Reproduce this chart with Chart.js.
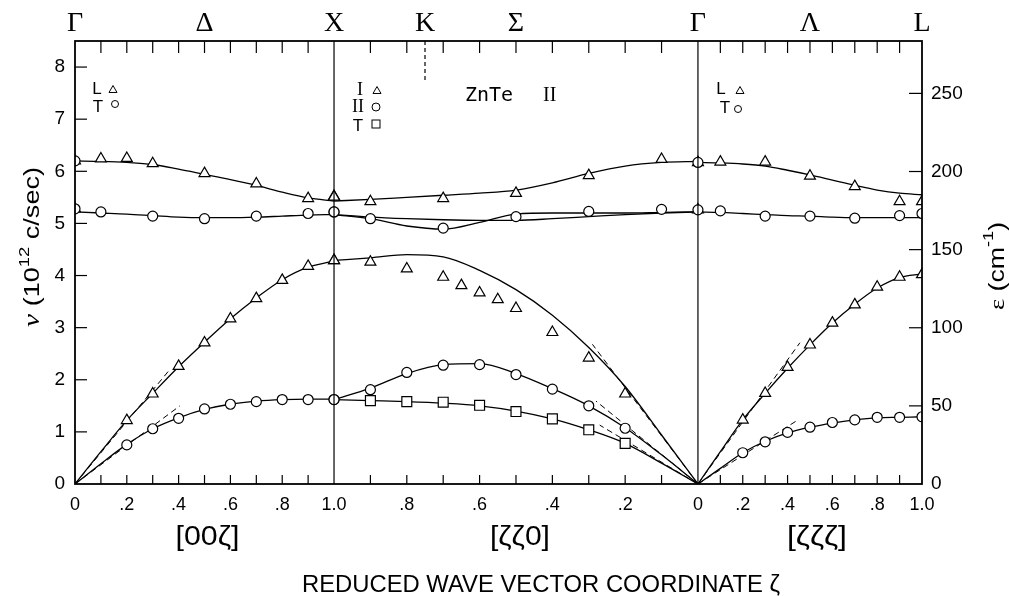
<!DOCTYPE html>
<html>
<head>
<meta charset="utf-8">
<script src="https://cdn.jsdelivr.net/npm/chart.js@4.4.0/dist/chart.umd.min.js"></script>
<style>
  html, body { margin: 0; padding: 0; background: #fff; }
</style>
</head>
<body>
<canvas id="chart" width="1009" height="596"></canvas>
<script>
// plotted length of [ζζ0] and [ζζζ] relative to [00ζ]
const S2 = 1.405, S3 = 0.865;
const TOT = 1 + S2 + S3;
const YMAX = 8.5;
const CM_PER_THZ = 33.356;

// --- measured points ---
// [00ζ]  Γ -> X
const gxLOz = [0.1, 0.2, 0.3, 0.5, 0.7, 0.9, 1.0];
const gxLOv = [6.24, 6.25, 6.15, 5.96, 5.76, 5.48, 5.51];
const gxTOz = [0.1, 0.3, 0.5, 0.7, 0.9, 1.0];
const gxTOv = [5.22, 5.14, 5.09, 5.14, 5.19, 5.22];
const gxAz = [0.2, 0.3, 0.4, 0.5, 0.6, 0.7, 0.8, 0.9, 1.0];
const gxLAv = [1.22, 1.73, 2.26, 2.71, 3.17, 3.56, 3.91, 4.18, 4.29];
const gxTAv = [0.75, 1.06, 1.26, 1.44, 1.53, 1.58, 1.62, 1.62, 1.62];

// [ζζ0]  X -> Γ
const xkUpz = [1.0, 0.9, 0.7, 0.5, 0.3, 0.1];
const xkIupv = [5.52, 5.42, 5.48, 5.58, 5.92, 6.23];
const xkIIupv = [5.22, 5.09, 4.91, 5.13, 5.23, 5.27];
const xkIz = [1.0, 0.9, 0.8, 0.7, 0.65, 0.6, 0.55, 0.5, 0.4, 0.3, 0.2];
const xkIv = [4.29, 4.26, 4.13, 3.97, 3.81, 3.67, 3.54, 3.37, 2.91, 2.42, 1.73];
const xkIIz = [1.0, 0.9, 0.8, 0.7, 0.6, 0.5, 0.4, 0.3, 0.2];
const xkIIv = [1.62, 1.81, 2.14, 2.28, 2.29, 2.10, 1.82, 1.50, 1.07];
const xkTz = [0.9, 0.8, 0.7, 0.6, 0.5, 0.4, 0.3, 0.2];
const xkTv = [1.60, 1.58, 1.57, 1.51, 1.39, 1.25, 1.04, 0.78];

// [ζζζ]  Γ -> L
const glUpz = [0.1, 0.3, 0.5, 0.7, 0.9, 1.0];
const glLOv = [6.18, 6.18, 5.91, 5.71, 5.42, 5.42];
const glTOv = [5.24, 5.14, 5.14, 5.10, 5.15, 5.19];
const glAz = [0.2, 0.3, 0.4, 0.5, 0.6, 0.7, 0.8, 0.9, 1.0];
const glLAv = [1.23, 1.74, 2.24, 2.67, 3.09, 3.44, 3.78, 3.97, 4.02];
const glTAv = [0.60, 0.81, 0.99, 1.09, 1.18, 1.23, 1.28, 1.28, 1.29];

// points at Γ (circle with triangle inside)
const gamma1V = [6.20, 5.28];
const gamma2V = [6.17, 5.26];

// --- drawn curves ---
const cz = [0, 0.1, 0.2, 0.3, 0.4, 0.5, 0.6, 0.7, 0.8, 0.9, 1.0];
const cGX_LO = [6.20, 6.19, 6.17, 6.13, 6.04, 5.94, 5.84, 5.73, 5.60, 5.49, 5.43];
const cGX_TO = [5.22, 5.20, 5.18, 5.15, 5.12, 5.11, 5.11, 5.12, 5.14, 5.16, 5.17];
const cGX_LA = [0, 0.62, 1.22, 1.74, 2.25, 2.72, 3.17, 3.57, 3.92, 4.16, 4.28];
const cGX_TA = [0, 0.39, 0.76, 1.06, 1.27, 1.43, 1.53, 1.59, 1.62, 1.63, 1.63];

const czr = [1.0, 0.9, 0.8, 0.7, 0.6, 0.5, 0.4, 0.3, 0.2, 0.1, 0];
const cXK_Iup = [5.43, 5.46, 5.50, 5.54, 5.58, 5.64, 5.78, 5.96, 6.10, 6.17, 6.19];
const cXK_IIa = [5.17, 5.09, 4.95, 4.89, 5.02, 5.18, 5.20, 5.20, 5.20, 5.21, 5.22];
const cXK_IIb = [5.17, 5.12, 5.09, 5.07, 5.06, 5.06, 5.09, 5.13, 5.17, 5.20, 5.22];
const cXK_I = [4.29, 4.34, 4.40, 4.36, 4.10, 3.73, 3.24, 2.62, 1.87, 0.94, 0];
const cXK_II = [1.62, 1.84, 2.12, 2.29, 2.31, 2.12, 1.83, 1.50, 1.08, 0.56, 0];
const cXK_T = [1.62, 1.60, 1.58, 1.55, 1.50, 1.40, 1.25, 1.04, 0.78, 0.40, 0];

const cGL_LO = [6.17, 6.16, 6.14, 6.10, 6.02, 5.93, 5.83, 5.73, 5.64, 5.58, 5.55];
const cGL_TO = [5.22, 5.21, 5.19, 5.17, 5.15, 5.14, 5.12, 5.11, 5.11, 5.11, 5.11];
const cGL_LA = [0, 0.62, 1.23, 1.74, 2.22, 2.67, 3.09, 3.45, 3.76, 3.96, 4.03];
const cGL_TA = [0, 0.30, 0.60, 0.82, 0.98, 1.09, 1.17, 1.23, 1.27, 1.28, 1.29];

// dashed initial-slope lines: [segment, ζ end, ν end], all start at Γ
const slopeLines = [
  [1, 0.36, 2.16], [1, 0.405, 1.50],
  [2, 0.29, 2.68], [2, 0.28, 1.59], [2, 0.27, 1.13],
  [3, 0.455, 2.71], [3, 0.45, 1.24]
];

// axis ticks
const zMinor = [0.1, 0.2, 0.3, 0.4, 0.5, 0.6, 0.7, 0.8, 0.9];
const xTickSeg = [1, 1, 1, 1, 1, 1, 2, 2, 2, 2, 3, 3, 3, 3, 3, 3];
const xTickZ = [0, 0.2, 0.4, 0.6, 0.8, 1.0, 0.8, 0.6, 0.4, 0.2, 0, 0.2, 0.4, 0.6, 0.8, 1.0];
const xTickText = ["0", ".2", ".4", ".6", ".8", "1.0", ".8", ".6", ".4", ".2", "0", ".2", ".4", ".6", ".8", "1.0"];
const topSeg = [1, 1, 1, 2, 2, 3, 3, 3];
const topZ = [0, 0.5, 1, 0.75, 0.5, 0, 0.5, 1];
const topText = ["Γ", "Δ", "X", "K", "Σ", "Γ", "Λ", "L"];

const SANS = "'Liberation Sans', Arial, sans-serif";
const SERIF = "'Liberation Serif', 'DejaVu Serif', serif";

function toU(seg, z) {
  if (seg === 1) return z;
  if (seg === 2) return 1 + (1 - z) * S2;
  return 1 + S2 + z * S3;
}
function pts(seg, zs, vs) {
  return zs.map((z, i) => ({ x: toU(seg, z), y: vs[i] }));
}
function marks(seg, zs, vs, style) {
  let r = 5;
  if (style === "triangle") r = 6.3;
  if (style === "rect") r = 7;
  return {
    data: pts(seg, zs, vs), pointStyle: style, pointRadius: r,
    backgroundColor: "#fff", borderColor: "#000", pointBorderWidth: 1.2,
    showLine: false, order: 0
  };
}
function curve(seg, zs, vs) {
  return {
    data: pts(seg, zs, vs), showLine: true, pointRadius: 0,
    borderColor: "#000", borderWidth: 1.3, cubicInterpolationMode: "monotone", order: 2
  };
}

let datasets = [
  curve(1, cz, cGX_LO), curve(1, cz, cGX_TO), curve(1, cz, cGX_LA), curve(1, cz, cGX_TA),
  curve(2, czr, cXK_Iup), curve(2, czr, cXK_IIa), curve(2, czr, cXK_IIb),
  curve(2, czr, cXK_I), curve(2, czr, cXK_II), curve(2, czr, cXK_T),
  curve(3, cz, cGL_LO), curve(3, cz, cGL_TO), curve(3, cz, cGL_LA), curve(3, cz, cGL_TA),
  marks(1, gxLOz, gxLOv, "triangle"), marks(1, gxTOz, gxTOv, "circle"),
  marks(1, gxAz, gxLAv, "triangle"), marks(1, gxAz, gxTAv, "circle"),
  marks(2, xkUpz, xkIupv, "triangle"), marks(2, xkUpz, xkIIupv, "circle"),
  marks(2, xkIz, xkIv, "triangle"), marks(2, xkIIz, xkIIv, "circle"),
  marks(2, xkTz, xkTv, "rect"),
  marks(3, glUpz, glLOv, "triangle"), marks(3, glUpz, glTOv, "circle"),
  marks(3, glAz, glLAv, "triangle"), marks(3, glAz, glTAv, "circle"),
  marks(1, [0, 0], gamma1V, "circle"), marks(1, [0, 0], gamma1V, "triangle"),
  marks(3, [0, 0], gamma2V, "circle"), marks(3, [0, 0], gamma2V, "triangle")
];
slopeLines.forEach(s => {
  datasets.push({
    data: [{ x: toU(s[0], 0), y: 0 }, { x: toU(s[0], s[1]), y: s[2] }],
    showLine: true, pointRadius: 0, borderColor: "#000", borderWidth: 1,
    borderDash: [6, 4], order: 1
  });
});

function richText(ctx, x, y, rot, parts, width) {
  ctx.save();
  ctx.translate(x, y);
  ctx.rotate(rot);
  let w = 0;
  parts.forEach(p => { ctx.font = p[1]; w += ctx.measureText(p[0]).width; });
  if (width) ctx.scale(width / w, 1);
  let cx = -w / 2;
  ctx.textAlign = "left";
  ctx.textBaseline = "alphabetic";
  parts.forEach(p => {
    ctx.font = p[1];
    ctx.fillText(p[0], cx, p[2]);
    cx += ctx.measureText(p[0]).width;
  });
  ctx.restore();
}
function tri(ctx, cx, cy, w) {
  const h = w * 0.87;
  ctx.beginPath();
  ctx.moveTo(cx, cy - h / 2);
  ctx.lineTo(cx + w / 2, cy + h / 2);
  ctx.lineTo(cx - w / 2, cy + h / 2);
  ctx.closePath();
  ctx.stroke();
}
function circ(ctx, cx, cy, d) {
  ctx.beginPath();
  ctx.arc(cx, cy, d / 2, 0, Math.PI * 2);
  ctx.stroke();
}

const decor = {
  id: "decor",
  afterDatasetsDraw(chart) {
    const { ctx, chartArea: a, scales: { x, y, y2 } } = chart;
    ctx.save();
    ctx.strokeStyle = "#000";
    ctx.lineWidth = 1.2;
    const seg = (x0, y0, x1, y1) => { ctx.beginPath(); ctx.moveTo(x0, y0); ctx.lineTo(x1, y1); ctx.stroke(); };
    [toU(1, 1), toU(3, 0)].forEach(u => {
      const px = x.getPixelForValue(u);
      seg(px, a.top, px, a.bottom);
    });
    [1, 2, 3].forEach(s => {
      zMinor.forEach(z => {
        const px = x.getPixelForValue(toU(s, z));
        seg(px, a.top, px, a.top + 12);
        seg(px, a.bottom, px, a.bottom - 9);
      });
    });
    for (let v = 1; v <= 8; v++) {
      const py = y.getPixelForValue(v);
      seg(a.left, py, a.left + 12, py);
    }
    for (let c = 50; c <= 250; c += 50) {
      const py = y2.getPixelForValue(c);
      seg(a.right, py, a.right - 13, py);
    }
    ctx.setLineDash([4, 3]);
    const kx = x.getPixelForValue(toU(2, 0.75));
    seg(kx, a.top, kx, a.top + 40);
    ctx.setLineDash([]);
    ctx.lineWidth = 1.8;
    ctx.strokeRect(a.left, a.top, a.right - a.left, a.bottom - a.top);
    ctx.restore();
  },
  afterDraw(chart) {
    const { ctx, chartArea: a, scales: { x } } = chart;
    ctx.save();
    ctx.fillStyle = "#000";
    ctx.strokeStyle = "#000";
    ctx.textAlign = "center";
    ctx.textBaseline = "middle";

    ctx.font = "28px " + SERIF;
    topText.forEach((t, i) => {
      ctx.fillText(t, x.getPixelForValue(toU(topSeg[i], topZ[i])), 24);
    });

    // axis titles
    richText(ctx, 31, 247, -Math.PI / 2, [
      ["ν", "italic 24px " + SERIF, 8], [" (10", "22px " + SANS, 8],
      ["12", "15px " + SANS, -2], [" c/sec)", "22px " + SANS, 8]
    ], 160);
    richText(ctx, 996, 266, -Math.PI / 2, [
      ["ε", "22px " + SERIF, 8], [" (cm", "22px " + SANS, 8], ["-1", "15px " + SANS, -3],
      [")", "22px " + SANS, 8]
    ], 88);
    richText(ctx, 541, 592, 0, [["REDUCED WAVE VECTOR COORDINATE ζ", "24px " + SANS, 0]], 478);
    richText(ctx, x.getPixelForValue(toU(1, 0.5)) + 3, 545, 0, [["[00ζ]", "27px " + SANS, 0]], 64);
    richText(ctx, x.getPixelForValue(toU(2, 0.5)) + 4, 545, 0, [["[ζζ0]", "27px " + SANS, 0]], 60);
    richText(ctx, x.getPixelForValue(toU(3, 0.5)) + 7, 545, 0, [["[ζζζ]", "27px " + SANS, 0]], 60);

    // legends
    ctx.lineWidth = 1;
    ctx.font = "17px " + SANS;
    ctx.fillText("L", 97, 89);
    ctx.fillText("T", 98, 107);
    tri(ctx, 113, 89, 8);
    circ(ctx, 115, 104, 7);

    ctx.fillText("L", 721, 89);
    ctx.fillText("T", 725, 108);
    tri(ctx, 740, 90, 8);
    circ(ctx, 738, 109, 7);

    ctx.font = "18px " + SERIF;
    ctx.fillText("I", 360, 90);
    ctx.fillText("II", 358, 107);
    ctx.font = "17px " + SANS;
    ctx.fillText("T", 358, 126);
    tri(ctx, 377, 90, 8);
    circ(ctx, 376, 107, 8);
    ctx.strokeRect(372, 120, 8, 8);

    ctx.textAlign = "left";
    ctx.font = "20px 'DejaVu Sans Mono', monospace";
    ctx.fillText("ZnTe", 465, 96);
    ctx.font = "20px " + SERIF;
    ctx.fillText("II", 543, 96);
    ctx.restore();
  }
};

Chart.defaults.color = "#000";

new Chart(document.getElementById("chart"), {
  type: "scatter",
  data: { datasets: datasets },
  options: {
    responsive: false,
    animation: false,
    devicePixelRatio: 1,
    layout: { padding: 0 },
    plugins: { legend: { display: false }, tooltip: { enabled: false } },
    scales: {
      x: {
        type: "linear", position: "bottom", min: 0, max: TOT,
        afterFit: s => { s.height = 112; },
        afterBuildTicks: s => { s.ticks = xTickZ.map((z, i) => ({ value: toU(xTickSeg[i], z) })); },
        ticks: {
          callback: (v, i) => xTickText[i], autoSkip: false, maxRotation: 0,
          padding: 10, font: { family: SANS, size: 18 }
        },
        grid: { display: false, drawTicks: false },
        border: { display: false }
      },
      xTop: {
        type: "linear", position: "top", min: 0, max: TOT,
        afterFit: s => { s.height = 41; },
        ticks: { display: false },
        grid: { display: false, drawTicks: false },
        border: { display: false }
      },
      y: {
        type: "linear", position: "left", min: 0, max: YMAX,
        afterFit: s => { s.width = 75; },
        ticks: { stepSize: 1, includeBounds: false, padding: 10, font: { family: SANS, size: 19 } },
        grid: { display: false, drawTicks: false },
        border: { display: false }
      },
      y2: {
        type: "linear", position: "right", min: 0, max: YMAX * CM_PER_THZ,
        afterFit: s => { s.width = 87; },
        ticks: { stepSize: 50, includeBounds: false, padding: 9, font: { family: SANS, size: 19 } },
        grid: { display: false, drawTicks: false },
        border: { display: false }
      }
    }
  },
  plugins: [decor]
});
</script>
</body>
</html>
